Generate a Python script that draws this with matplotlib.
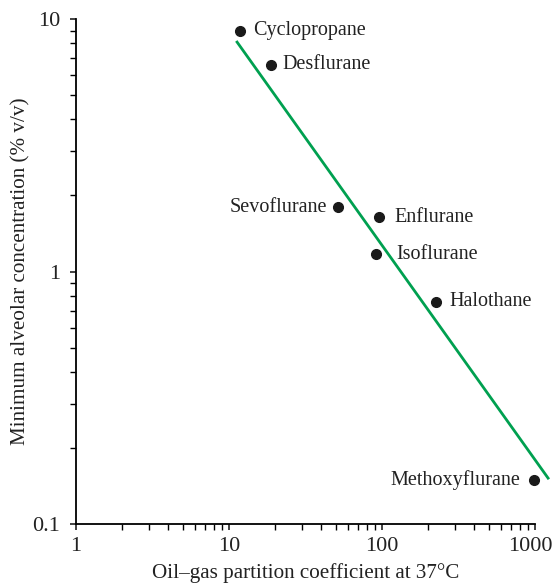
import numpy as np
import matplotlib.pyplot as plt
from matplotlib.transforms import ScaledTranslation

plt.rcParams['font.family'] = ['Liberation Serif', 'DejaVu Serif']

agents = ['Cyclopropane', 'Desflurane', 'Sevoflurane', 'Enflurane',
          'Isoflurane', 'Halothane', 'Methoxyflurane']
oil_gas = [11.8, 18.8, 52, 96, 91, 225, 980]
mac = [9.0, 6.6, 1.8, 1.64, 1.17, 0.76, 0.15]

# label offset in points (negative = text on the left of the dot)
label_dx = [9.5, 8, -8.5, 11, 15, 9.5, -9.5]

# fitted line endpoints
fit_x = [11.3, 1220]
fit_y = [8.1, 0.152]

fig = plt.figure(figsize=(5.56, 5.84), dpi=100)
ax = fig.add_axes([0.1367, 0.1027, 0.8253, 0.8648])

ax.plot(fit_x, fit_y, color='#00a050', lw=2, clip_on=False, zorder=2)
ax.plot(oil_gas, mac, 'o', color='#1a1a1a', ms=7, clip_on=False, zorder=3)

for name, x, y, dx in zip(agents, oil_gas, mac, label_dx):
    ax.annotate(name, (x, y), xytext=(dx, 0), textcoords='offset points',
                ha='left' if dx > 0 else 'right', va='center',
                fontsize=14.5, color='#222222')

ax.set_xscale('log')
ax.set_yscale('log')
ax.set_xlim(1, 1000)
ax.set_ylim(0.1, 10)
ax.set_xticks([1, 10, 100, 1000])
ax.set_xticklabels(['1', '10', '100', '1000'])
ax.set_yticks([0.1, 1, 10])
ax.set_yticklabels(['0.1', '1', '10'])
ax.tick_params(labelsize=16, colors='#222222', width=1.2, length=4.5)
ax.tick_params(which='minor', width=1.0, length=4)
ax.tick_params(axis='x', pad=5)
ax.tick_params(axis='y', pad=7)
ax.spines['top'].set_visible(False)
ax.spines['right'].set_visible(False)
ax.spines['left'].set_linewidth(1.3)
ax.spines['bottom'].set_linewidth(1.3)

# nudge the last x label so it stays inside the figure
last = ax.get_xticklabels()[-1]
last.set_transform(last.get_transform() + ScaledTranslation(-3 / 72, 0, fig.dpi_scale_trans))

ax.set_xlabel('Oil–gas partition coefficient at 37°C', fontsize=15.2, color='#222222', labelpad=5)
ax.set_ylabel('Minimum alveolar concentration (% v/v)', fontsize=15.2, color='#222222')
ax.yaxis.set_label_coords(-0.10, 0.5)

fig.savefig('out.png', dpi=100)
